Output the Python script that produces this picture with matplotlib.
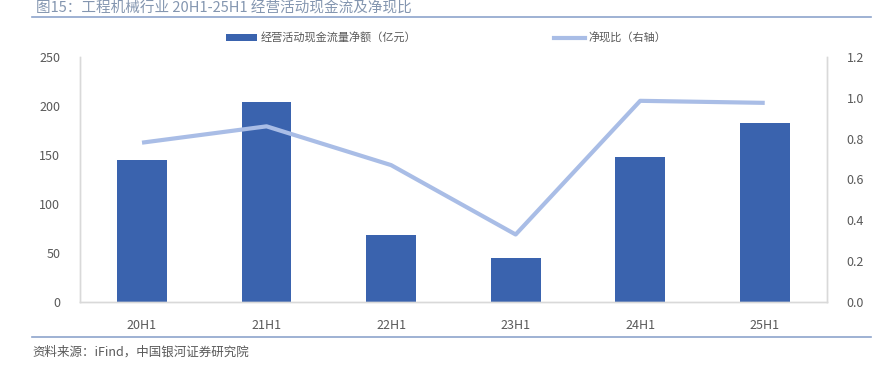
import matplotlib.pyplot as plt
from matplotlib.lines import Line2D
from matplotlib.patches import Patch

plt.rcParams['font.family'] = ['Noto Sans CJK SC', 'DejaVu Sans']

# Data
periods = ['20H1', '21H1', '22H1', '23H1', '24H1', '25H1']
cash_flow = [145, 204, 68, 45, 148, 183]        # 经营活动现金流量净额（亿元）
net_ratio = [0.78, 0.86, 0.67, 0.33, 0.985, 0.975]  # 净现比（右轴）

bar_color = '#3a63ae'
line_color = '#a9bde6'
grid_gray = '#d9d9d9'
text_gray = '#595959'

fig = plt.figure(figsize=(8.96, 3.65), dpi=100)
ax = fig.add_axes([0.089, 0.173, 0.834, 0.671])
ax2 = ax.twinx()

x = list(range(len(periods)))
ax.bar(x, cash_flow, width=0.4, color=bar_color, zorder=2)
ax2.plot(x, net_ratio, color=line_color, linewidth=3, solid_capstyle='butt', zorder=3)

ax.set_xlim(-0.5, len(periods) - 0.5)
ax.set_ylim(0, 250)
ax.set_yticks(range(0, 251, 50))
ax2.set_ylim(0, 1.2)
ax2.set_yticks([0.0, 0.2, 0.4, 0.6, 0.8, 1.0, 1.2])
ax2.set_yticklabels([f'{v:.1f}' for v in [0.0, 0.2, 0.4, 0.6, 0.8, 1.0, 1.2]])

ax.set_xticks(x)
ax.set_xticklabels(periods)

for a in (ax, ax2):
    for s in ['left', 'right', 'bottom']:
        a.spines[s].set_color(grid_gray)
        a.spines[s].set_linewidth(1)
    a.spines['top'].set_visible(False)
    a.tick_params(length=0, labelsize=9, colors=text_gray)
ax.tick_params(axis='x', pad=12)
ax.tick_params(axis='y', pad=14)
ax2.tick_params(axis='y', pad=14)

# legend
handles = [Patch(facecolor=bar_color, label='经营活动现金流量净额（亿元）'),
           Line2D([0], [0], color=line_color, linewidth=3, label='净现比（右轴）')]
fig.legend(handles=handles, loc='center', bbox_to_anchor=(0.498, 0.895), ncol=2,
           frameon=False, fontsize=8, columnspacing=12.4, handlelength=2.8,
           handleheight=0.6, handletextpad=0.3, labelcolor=text_gray)

# title and rules
fig.text(0.04, 0.976, '图15：工程机械行业 20H1-25H1 经营活动现金流及净现比',
         fontsize=10.5, color='#8496b0', va='center', ha='left')
fig.add_artist(Line2D([0.036, 0.972], [0.954, 0.954], color='#8ea4cc', linewidth=1.2))
fig.add_artist(Line2D([0.036, 0.972], [0.077, 0.077], color='#8ea4cc', linewidth=1.2))
fig.text(0.036, 0.035, '资料来源：iFind，中国银河证券研究院', fontsize=9,
         color=text_gray, style='italic', va='center', ha='left')

plt.savefig('out.png', dpi=100)
